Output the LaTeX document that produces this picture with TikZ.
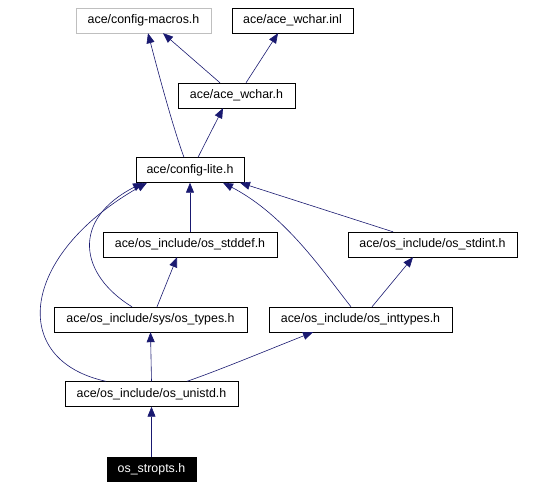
\documentclass[tikz,border=0pt]{standalone}
\usepackage{fontspec}
\setmainfont{Liberation Sans}
\usetikzlibrary{arrows.meta}

\definecolor{kante}{RGB}{25,25,112}
\definecolor{grau}{RGB}{191,191,191}

\begin{document}
\begin{tikzpicture}[x=1pt, y=-1pt,
    datei/.style={draw=black, fill=white, inner xsep=0pt, inner ysep=0pt,
        minimum height=25pt, font=\fontsize{12.4}{14}\selectfont},
    kanten/.style={draw=kante, line width=0.6pt,
        -{Triangle[length=10pt, width=8pt]}}]
    \useasboundingbox (0,0) rectangle (552,488);

    % Zeichne die Dateien als Kaesten
    \node[datei, draw=grau, minimum width=135pt] (macros) at (143.5,20.5) {ace/config-macros.h};
    \node[datei, minimum width=121pt] (inl) at (292.5,20.5) {ace/ace\_wchar.inl};
    \node[datei, minimum width=117pt] (wchar) at (236.5,95.5) {ace/ace\_wchar.h};
    \node[datei, minimum width=108pt] (lite) at (190,170) {ace/config-lite.h};
    \node[datei, minimum width=174pt] (stddef) at (190,244.5) {ace/os\_include/os\_stddef.h};
    \node[datei, minimum width=169pt] (stdint) at (432.5,244.5) {ace/os\_include/os\_stdint.h};
    \node[datei, minimum width=193pt] (types) at (150.5,319.5) {ace/os\_include/sys/os\_types.h};
    \node[datei, minimum width=183pt] (inttypes) at (360.5,319.5) {ace/os\_include/os\_inttypes.h};
    \node[datei, minimum width=173pt] (unistd) at (151.5,394) {ace/os\_include/os\_unistd.h};
    \node[datei, fill=black, text=white, minimum width=89pt, minimum height=24pt] (stropts) at (151.5,469) {os\_stropts.h};

    % Kanten zur obersten Reihe
    \draw[kanten] ([xshift=-6pt]lite.north) .. controls (172,125) and (155,60) .. ([xshift=4.5pt]macros.south);
    \draw[kanten] ([xshift=-16.5pt]wchar.north) -- ([xshift=19.5pt]macros.south);
    \draw[kanten] ([xshift=9.5pt]wchar.north) -- ([xshift=-14.5pt]inl.south);
    \draw[kanten] ([xshift=8pt]lite.north) -- ([xshift=-13.5pt]wchar.south);

    % Kanten zu ace/config-lite.h
    \draw[kanten] (stddef.north) -- (lite.south);
    \draw[kanten] ([xshift=-39.5pt]stdint.north) -- ([xshift=50pt]lite.south);
    \draw[kanten] ([xshift=-9.5pt]inttypes.north) .. controls (322,270) and (285,215) .. ([xshift=33pt]lite.south);
    \draw[kanten] ([xshift=-18.5pt]types.north) .. controls (80,275) and (70,220) .. ([xshift=-47pt]lite.south);
    \draw[kanten] ([xshift=-45.5pt]unistd.north) .. controls (8,360) and (20,255) .. ([xshift=-43pt]lite.south);

    % Kanten der unteren Reihen
    \draw[kanten] ([xshift=11.5pt]inttypes.north) -- ([xshift=-19.5pt]stdint.south);
    \draw[kanten] ([xshift=6.5pt]types.north) -- ([xshift=-13pt]stddef.south);
    \draw[kanten] (unistd.north) -- (types.south);
    \draw[kanten] ([xshift=35.5pt]unistd.north) .. controls (220,370) and (280,345) .. ([xshift=-47.5pt]inttypes.south);
    \draw[kanten] (stropts.north) -- (unistd.south);
\end{tikzpicture}
\end{document}
